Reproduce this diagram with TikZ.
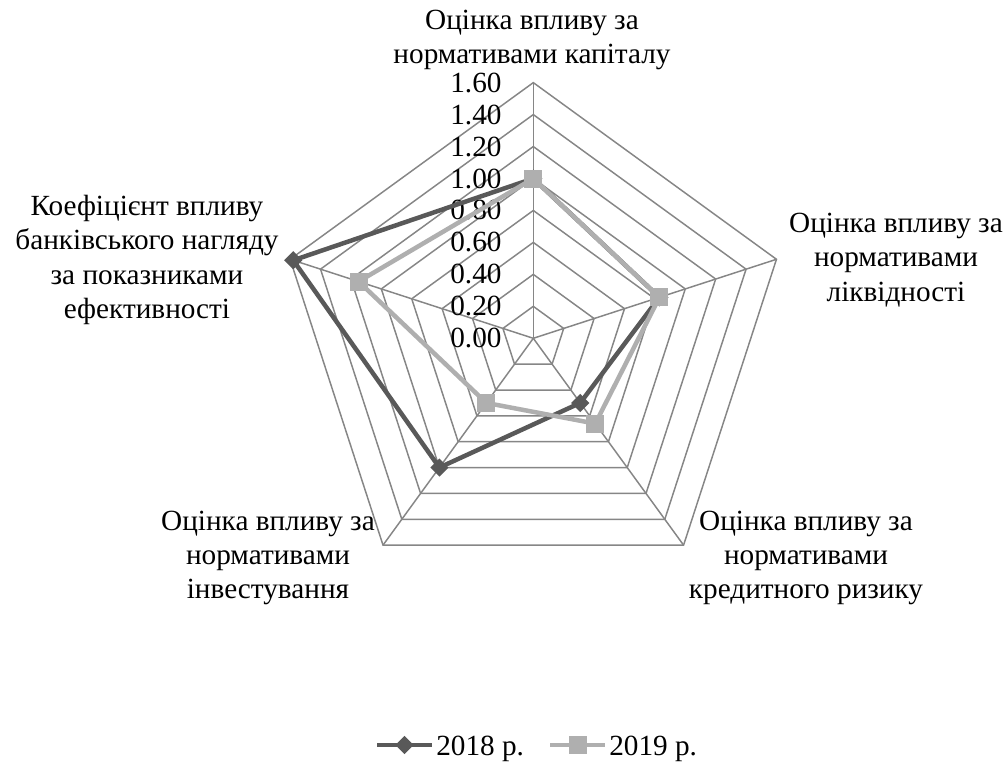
\documentclass[tikz,border=0pt]{standalone}
\usepackage{fontspec}
\setmainfont{LiberationSerif}[Extension=.ttf, UprightFont=*-Regular, BoldFont=*-Bold]
\usetikzlibrary{shapes,positioning}
\definecolor{webgray}{RGB}{134,134,134}
\definecolor{dark18}{RGB}{89,89,89}
\definecolor{light19}{RGB}{175,175,175}
\tikzstyle{web} = [draw=webgray, line width=1.05pt]
\tikzstyle{serie18} = [draw=dark18, line width=3.2pt, line join=round]
\tikzstyle{serie19} = [draw=light19, line width=3.2pt, line join=round]
\tikzstyle{mark18} = [diamond, fill=dark18, inner sep=0pt, minimum width=0.46cm, minimum height=0.46cm]
\tikzstyle{mark19} = [rectangle, fill=light19, inner sep=0pt, minimum size=0.45cm]
\tikzstyle{catlabel} = [align=center, inner sep=0pt]
\tikzstyle{valuelabel} = [anchor=east, inner sep=0pt]

\begin{document}
\begin{tikzpicture}[x=0.025cm, y=0.025cm, font=\fontsize{20.8}{24.4}\selectfont]
  \useasboundingbox (0,0) rectangle (1008,-763);

  % radar
  \begin{scope}[shift={(533.3,-338.3)}, scale=159.8]
    \foreach \r in {0.2,0.4,...,1.6}
      \draw[web] (90:\r) -- (18:\r) -- (-54:\r) -- (-126:\r) -- (162:\r) -- cycle;
    \foreach \a in {90,18,-54,-126,162}
      \draw[web] (0,0) -- (\a:1.6);

    \foreach \r/\t [count=\i] in {0/0.00,0.2/0.20,0.4/0.40,0.6/0.60,0.8/0.80,1.0/1.00,1.2/1.20,1.4/1.40,1.6/1.60}
      \node[valuelabel] (val\i) at (-0.197,\r) {\t};

    % 2018
    \coordinate (kap18) at (90:1.00);
    \coordinate (likv18) at (18:0.83);
    \coordinate (kred18) at (-54:0.50);
    \coordinate (inv18) at (-126:1.00);
    \coordinate (ef18) at (162:1.58);
    \draw[serie18] (kap18) -- (likv18) -- (kred18) -- (inv18) -- (ef18) -- cycle;
    \foreach \p in {kap18,likv18,kred18,inv18,ef18}
      \node[mark18] (m\p) at (\p) {};

    % 2019
    \coordinate (kap19) at (90:1.00);
    \coordinate (likv19) at (18:0.83);
    \coordinate (kred19) at (-54:0.66);
    \coordinate (inv19) at (-126:0.50);
    \coordinate (ef19) at (162:1.15);
    \draw[serie19] (kap19) -- (likv19) -- (kred19) -- (inv19) -- (ef19) -- cycle;
    \foreach \p in {kap19,likv19,kred19,inv19,ef19}
      \node[mark19] (m\p) at (\p) {};
  \end{scope}

  % categories
  \node[catlabel] (lkap) at (532,-40) {Оцінка впливу за\\нормативами капіталу};
  \node[catlabel] (llikv) at (896,-260) {Оцінка впливу за\\нормативами\\ліквідності};
  \node[catlabel] (lkred) at (806,-558) {Оцінка впливу за\\нормативами\\кредитного ризику};
  \node[catlabel] (linv) at (268,-558) {Оцінка впливу за\\нормативами\\інвестування};
  \node[catlabel] (lef) at (147,-260) {Коефіцієнт впливу\\банківського нагляду\\за показниками\\ефективності};

  % legend
  \coordinate (leg18a) at (377,-745);
  \coordinate (leg18b) at (432,-745);
  \draw[serie18] (leg18a) -- (leg18b);
  \node[mark18] (legm18) at (404.5,-745) {};
  \node[anchor=base west, inner sep=0pt] (legt18) at (436,-755) {2018 р.};
  \coordinate (leg19a) at (550,-745);
  \coordinate (leg19b) at (605,-745);
  \draw[serie19] (leg19a) -- (leg19b);
  \node[mark19] (legm19) at (577.5,-745) {};
  \node[anchor=base west, inner sep=0pt] (legt19) at (609,-755) {2019 р.};
\end{tikzpicture}
\end{document}
